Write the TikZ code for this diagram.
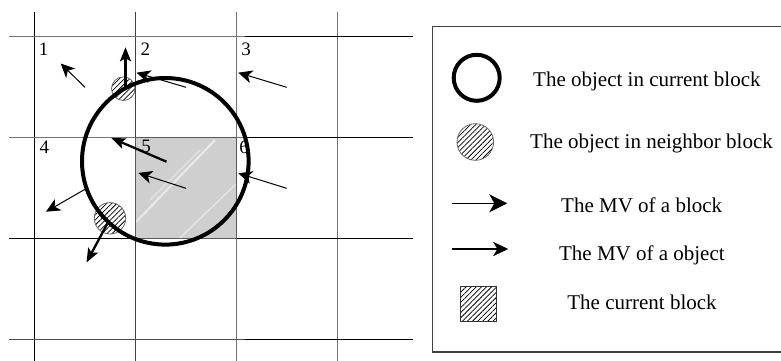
\documentclass[tikz,border=0pt]{standalone}
\usepackage{fontspec}
\setmainfont{Liberation Serif}
\usetikzlibrary{arrows.meta,patterns.meta}
\begin{document}
\begin{tikzpicture}[x=1pt,y=-1pt,
  gridblack/.style={line width=1pt, draw=black},
  gridgray/.style={line width=1pt, draw=black!55},
  curblock/.style={fill=black!19, draw=black!65, line width=1.5pt},
  curobj/.style={line width=4pt, draw=black},
  nbobj/.style={draw=black!60, line width=0.8pt, pattern={Lines[angle=45,distance=3.6pt,line width=0.75pt]}},
  blockmv/.style={line width=1pt, -{Stealth[length=14pt,width=13pt,inset=4pt]}},
  objmv/.style={line width=2.3pt, -{Stealth[length=14pt,width=11pt,inset=3pt]}},
  cellnum/.style={inner sep=0pt, font=\fontsize{19}{19}\selectfont},
  legtext/.style={inner sep=0pt, font=\fontsize{21}{25}\selectfont}]
\useasboundingbox (0,0) rectangle (781,361);

% grid
\draw[gridblack] (34.7,12) -- (34.7,361);
\draw[line width=1pt, draw=black!75] (135.3,12) -- (135.3,361);
\draw[gridgray] (236.3,12) -- (236.3,361);
\draw[gridgray] (337,12) -- (337,361);
\draw[gridgray] (9.3,37) -- (245,37);
\draw[gridblack] (245,37) -- (412.7,37);
\draw[gridgray] (9.3,137.7) -- (245,137.7);
\draw[gridblack] (245,137.7) -- (412.7,137.7);
\draw[gridblack] (9.3,238.7) -- (412.7,238.7);
\draw[line width=1pt, draw=black!70] (9.3,339.3) -- (245,339.3);
\draw[gridblack] (245,339.3) -- (412.7,339.3);

% current block
\draw[curblock] (135.3,137.7) rectangle (236.3,238.7);
\begin{scope}
  \clip (136,138.5) rectangle (235.5,238);
  \draw[white, opacity=0.55, line width=2pt] (136,222) -- (215,140);
  \draw[white, opacity=0.45, line width=1.5pt] (180,238) -- (240,180);
  \draw[white, opacity=0.35, line width=1.5pt] (150,200) -- (200,150);
\end{scope}

% cell numbers
\node[cellnum] (n1) at (43.7,49.7) {1};
\node[cellnum] (n2) at (145.3,49.2) {2};
\node[cellnum] (n3) at (246,49.7) {3};
\node[cellnum] (n4) at (44.3,147) {4};
\node[cellnum] (n5) at (146,146.7) {5};
\node[cellnum] (n6) at (244,147.8) {6};

% neighbour objects
\draw[nbobj] (123.3,88.7) circle (11.8);
\draw[nbobj] (110,218.3) circle (15.7);

% object in current block
\draw[curobj] (165.3,161.3) circle (83.3);

% block motion vectors
\coordinate (b1s) at (85,87.3);   \coordinate (b1e) at (60.7,63.5);
\coordinate (b2s) at (186,87.3);  \coordinate (b2e) at (136.5,72.7);
\coordinate (b3s) at (286.7,87.3);\coordinate (b3e) at (238.3,72.7);
\coordinate (b4s) at (85,189.3);  \coordinate (b4e) at (46,211.7);
\coordinate (b5s) at (186,188.3); \coordinate (b5e) at (138.3,172.9);
\coordinate (b6s) at (286.7,188.3);\coordinate (b6e) at (238.3,173.3);
\foreach \i in {1,...,6} \draw[blockmv] (b\i s) -- (b\i e);

% object motion vectors
\coordinate (oAs) at (125.5,88.7); \coordinate (oAe) at (125.5,47.3);
\coordinate (oBs) at (166.5,161.7); \coordinate (oBe) at (111.3,138);
\coordinate (oCs) at (109,220.5); \coordinate (oCe) at (86.5,262.5);
\draw[objmv] (oAs) -- (oAe);
\draw[objmv] (oBs) -- (oBe);
\draw[objmv] (oCs) -- (oCe);

% legend
\draw[draw=black!75, line width=1.2pt] (782,26.7) -- (432.7,26.7) -- (432.7,352) -- (782,352);
\draw[curobj] (476.7,77.8) circle (23);
\node[legtext, anchor=base west] (t1) at (533,86.7) {The object in current block};
\draw[nbobj] (475.3,142) circle (18.3);
\node[legtext, anchor=base west] (t2) at (530,148.3) {The object in neighbor block};
\coordinate (l1s) at (452.3,203.3); \coordinate (l1e) at (507.3,203.3);
\draw[line width=1pt, -{Stealth[length=18pt,width=18pt,inset=5pt]}] (l1s) -- (l1e);
\node[legtext, anchor=base] (t3) at (641.7,212.3) {The MV of a block};
\coordinate (l2s) at (451.7,249); \coordinate (l2e) at (508.3,249);
\draw[line width=2.3pt, -{Stealth[length=15pt,width=14pt,inset=4pt]}] (l2s) -- (l2e);
\node[legtext, anchor=base] (t4) at (641.9,260) {The MV of a object};
\draw[line width=1pt, draw=black!80, pattern={Lines[angle=45,distance=3.6pt,line width=0.75pt]}] (460,286) rectangle (496,321.7);
\node[legtext, anchor=base] (t5) at (642,309.3) {The current block};
\end{tikzpicture}
\end{document}
